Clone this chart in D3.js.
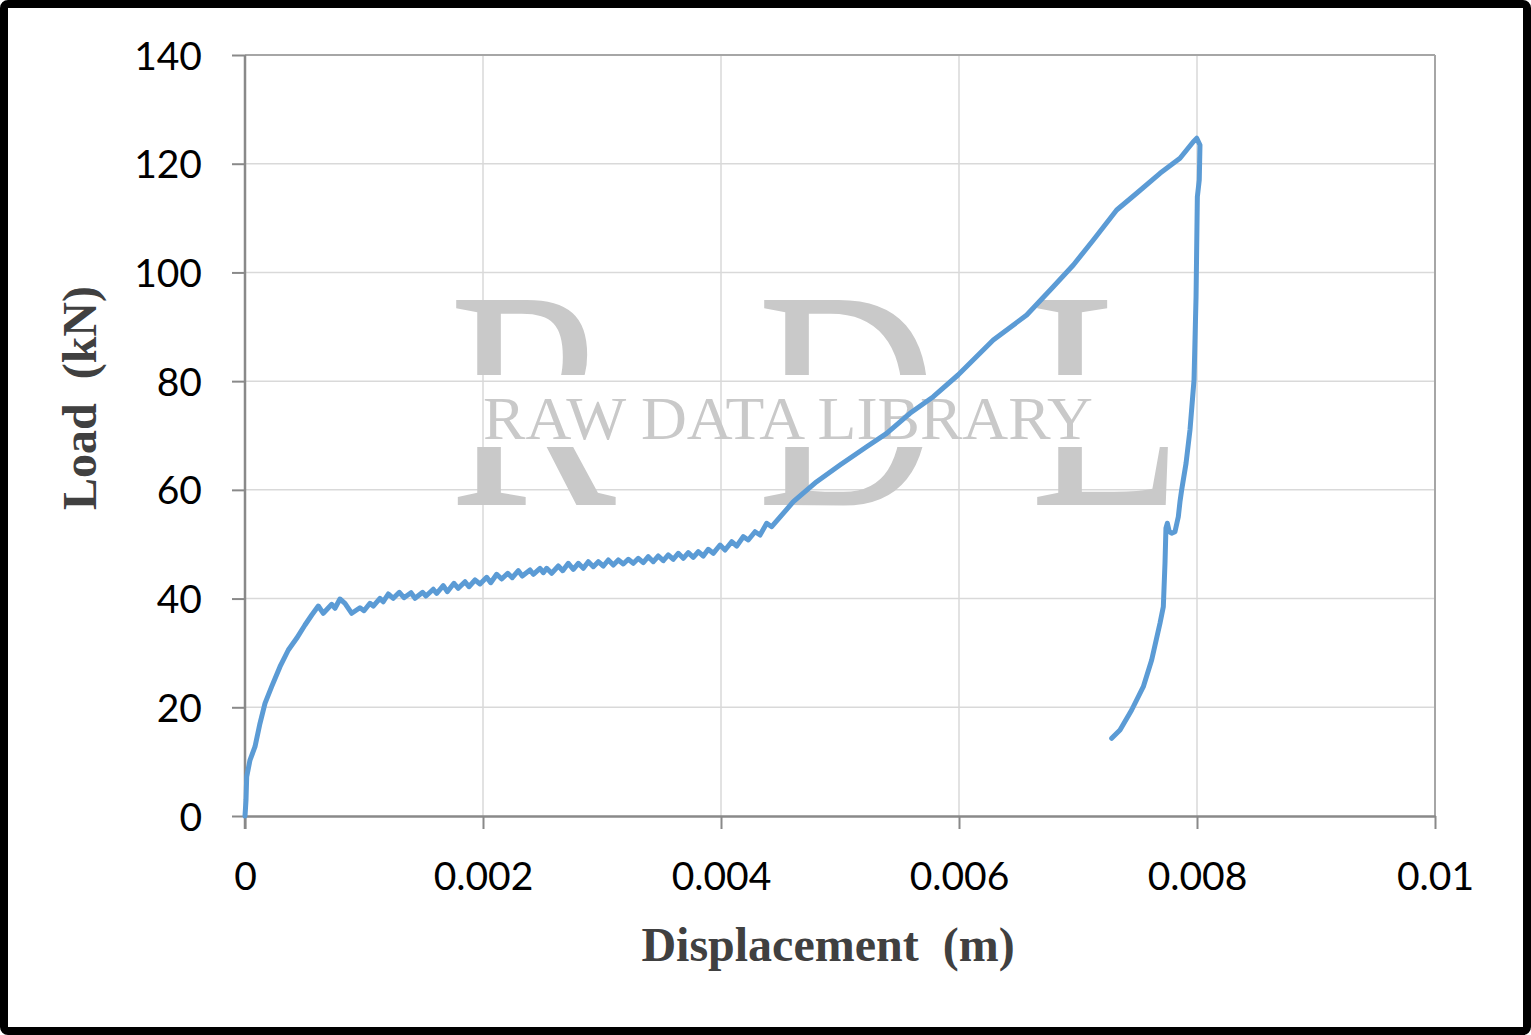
<!DOCTYPE html>
<html>
<head>
<meta charset="utf-8">
<script src="https://cdn.jsdelivr.net/npm/d3@7"></script>
<style>
html,body{margin:0;padding:0;background:#fff;}
svg{display:block;}
</style>
</head>
<body>
<svg id="chart" width="1531" height="1035"></svg>
<script>
// ---- data (displacement in m, load in kN) ----
const displacement = [
0,0.0000084,0.0000143,0.000042,0.000084,0.000126,0.000168,0.000224,0.000294,0.000364,0.000434,0.000504,0.000561,
0.000616,0.000658,0.000729,0.000756,0.000798,0.000840,0.000897,0.000966,0.001000,0.001050,0.001078,0.001134,0.001162,
0.001204,0.001246,0.001297,0.001336,0.001395,0.001429,0.001493,0.001521,0.001582,0.001611,0.001666,0.001700,0.001756,
0.001792,0.001849,0.001882,0.001933,0.001975,0.002031,0.002065,0.002115,0.002157,0.002208,0.002246,0.002297,0.002330,
0.002395,0.002423,0.002479,0.002507,0.002535,0.002577,0.002633,0.002670,0.002717,0.002759,0.002801,0.002843,0.002885,
0.002927,0.002969,0.003011,0.003053,0.003095,0.003137,0.003179,0.003221,0.003263,0.003305,0.003347,0.003389,0.003431,
0.003473,0.003515,0.003557,0.003599,0.003641,0.003683,0.003725,0.003767,0.003809,0.003851,0.003893,0.003935,0.003992,
0.004034,0.004090,0.004132,0.004187,0.004229,0.004286,0.004328,0.004384,0.004426,0.004608,0.004804,0.005000,0.005224,
0.005392,0.005588,0.005784,0.005992,0.006288,0.006569,0.006792,0.006961,0.007129,0.007325,0.007493,0.007689,0.007857,
0.007969,0.007998,0.008025,0.008019,0.008003,0.007992,0.007975,0.007941,0.007908,0.007871,0.007857,0.007843,0.007815,
0.007787,0.007767,0.007751,0.007739,0.007731,0.007717,0.007689,0.007619,0.007549,0.007451,0.007353,0.007283
];
const load = [
0,2.94,7.23,10.30,12.75,17.05,20.73,23.79,27.47,30.54,32.69,35.14,36.98,
38.63,37.29,38.95,38.21,39.92,39.13,37.29,38.32,37.77,39.13,38.63,40.05,39.42,
40.84,40.05,41.15,40.16,41.08,40.05,41.15,40.47,41.71,40.97,42.37,41.26,42.81,
41.89,43.10,42.18,43.42,42.68,43.91,42.92,44.47,43.60,44.65,43.84,45.13,44.15,
45.26,44.47,45.57,44.76,45.57,44.65,45.99,45.13,46.49,45.38,46.49,45.57,46.78,
45.86,46.78,45.99,47.10,46.18,47.10,46.36,47.23,46.49,47.41,46.60,47.70,46.78,
47.83,46.97,48.02,47.23,48.33,47.41,48.44,47.59,48.62,47.83,49.06,48.33,49.85,
48.94,50.46,49.67,51.38,50.78,52.30,51.69,53.85,53.22,57.82,61.50,64.57,67.94,
70.40,74.08,77.14,81.13,87.57,92.17,97.37,101.37,105.97,111.49,114.56,118.24,121.00,
124.05,124.68,123.44,117.00,113.93,95.54,80.21,71.01,64.89,59.97,57.82,55.06,52.30,
52.01,52.30,53.85,52.93,46.49,38.50,35.45,28.70,23.79,19.50,15.82,14.29
];
const xTicks = [0, 0.002, 0.004, 0.006, 0.008, 0.01];
const xTickLabels = ["0", "0.002", "0.004", "0.006", "0.008", "0.01"];
const yTicks = [0, 20, 40, 60, 80, 100, 120, 140];
const xTitle = "Displacement\u00a0\u00a0(m)";
const yTitle = "Load\u00a0\u00a0(kN)";
const watermarkLetters = ["R", "D", "L"];
const watermarkText = "RAW DATA LIBRARY";

// ---- layout ----
const svg = d3.select("#chart");
const L = 245, R = 1435, T = 55, B = 816;
const x = d3.scaleLinear().domain([0, 0.01]).range([L, R]);
const y = d3.scaleLinear().domain([0, 140]).range([B, T]);

// frame
svg.append("rect").attr("x", 4).attr("y", 4).attr("width", 1523).attr("height", 1027)
  .attr("rx", 4).attr("fill", "#fff").attr("stroke", "#000").attr("stroke-width", 8);

// gridlines
const grid = svg.append("g");
grid.selectAll("line.h").data(yTicks.slice(1)).join("line")
  .attr("x1", L).attr("x2", R).attr("y1", d => y(d)).attr("y2", d => y(d))
  .attr("stroke", "#d9d9d9").attr("stroke-width", 1.5);
grid.selectAll("line.v").data(xTicks.slice(1)).join("line")
  .attr("y1", T).attr("y2", B).attr("x1", d => x(d)).attr("x2", d => x(d))
  .attr("stroke", "#d9d9d9").attr("stroke-width", 1.5);

// plot area border (top/right)
svg.append("line").attr("x1", L).attr("x2", R).attr("y1", T).attr("y2", T)
  .attr("stroke", "#a6a6a6").attr("stroke-width", 2);
svg.append("line").attr("x1", R).attr("x2", R).attr("y1", T).attr("y2", B)
  .attr("stroke", "#a6a6a6").attr("stroke-width", 2);

// watermark
const defs = svg.append("defs");
const cp = defs.append("clipPath").attr("id", "wmclip");
cp.append("rect").attr("x", 400).attr("y", 260).attr("width", 900).attr("height", 115);
cp.append("rect").attr("x", 400).attr("y", 447).attr("width", 900).attr("height", 80);
const wm = svg.append("g").attr("fill", "#c9c9c9").attr("font-family", "'Liberation Serif','DejaVu Serif',serif");
const letterX = [449, 757, 1030];
wm.append("g").attr("clip-path", "url(#wmclip)")
  .selectAll("text").data(watermarkLetters).join("text")
  .attr("transform", (d, i) => `translate(${letterX[i]},505) scale(0.8,1)`)
  .attr("font-size", 313).text(d => d);
wm.append("text").attr("x", 483).attr("y", 439).attr("font-size", 62)
  .attr("textLength", 610).attr("lengthAdjust", "spacingAndGlyphs").text(watermarkText);

// axes
const axisColor = "#898989";
const xAxis = svg.append("g").attr("transform", `translate(0,${B})`)
  .call(d3.axisBottom(x).tickValues(xTicks).tickSize(13).tickFormat((d, i) => xTickLabels[i]).tickSizeOuter(0));
const yAxis = svg.append("g").attr("transform", `translate(${L},0)`)
  .call(d3.axisLeft(y).tickValues(yTicks).tickSize(13).tickFormat(d3.format("d")).tickSizeOuter(0));
[xAxis, yAxis].forEach(a => {
  a.select(".domain").attr("stroke", axisColor).attr("stroke-width", 2.5);
  a.selectAll(".tick line").attr("stroke", axisColor).attr("stroke-width", 2);
  a.selectAll(".tick text").attr("fill", "#000").attr("font-family", "Lato, 'Open Sans', sans-serif")
    .attr("font-size", 39);
});
yAxis.select(".domain").attr("d", `M0,${T}V${B + 13}`);
xAxis.selectAll(".tick text").attr("dy", null).attr("y", 74);
yAxis.selectAll(".tick text").attr("x", -43).attr("dy", "0.36em");

// curve
const pts = displacement.map((d, i) => [d, load[i]]);
svg.append("path").datum(pts)
  .attr("fill", "none").attr("stroke", "#5b9bd5").attr("stroke-width", 5)
  .attr("stroke-linejoin", "round").attr("stroke-linecap", "round")
  .attr("d", d3.line().x(d => x(d[0])).y(d => y(d[1])));

// titles
svg.append("text").attr("x", 828).attr("y", 961).attr("text-anchor", "middle")
  .attr("font-family", "'Liberation Serif','Times New Roman',serif").attr("font-weight", "bold")
  .attr("font-size", 48).attr("fill", "#404040").text(xTitle);
svg.append("text").attr("transform", "translate(96,398) rotate(-90)").attr("text-anchor", "middle")
  .attr("font-family", "'Liberation Serif','Times New Roman',serif").attr("font-weight", "bold")
  .attr("font-size", 48).attr("fill", "#404040").text(yTitle);
</script>
</body>
</html>
